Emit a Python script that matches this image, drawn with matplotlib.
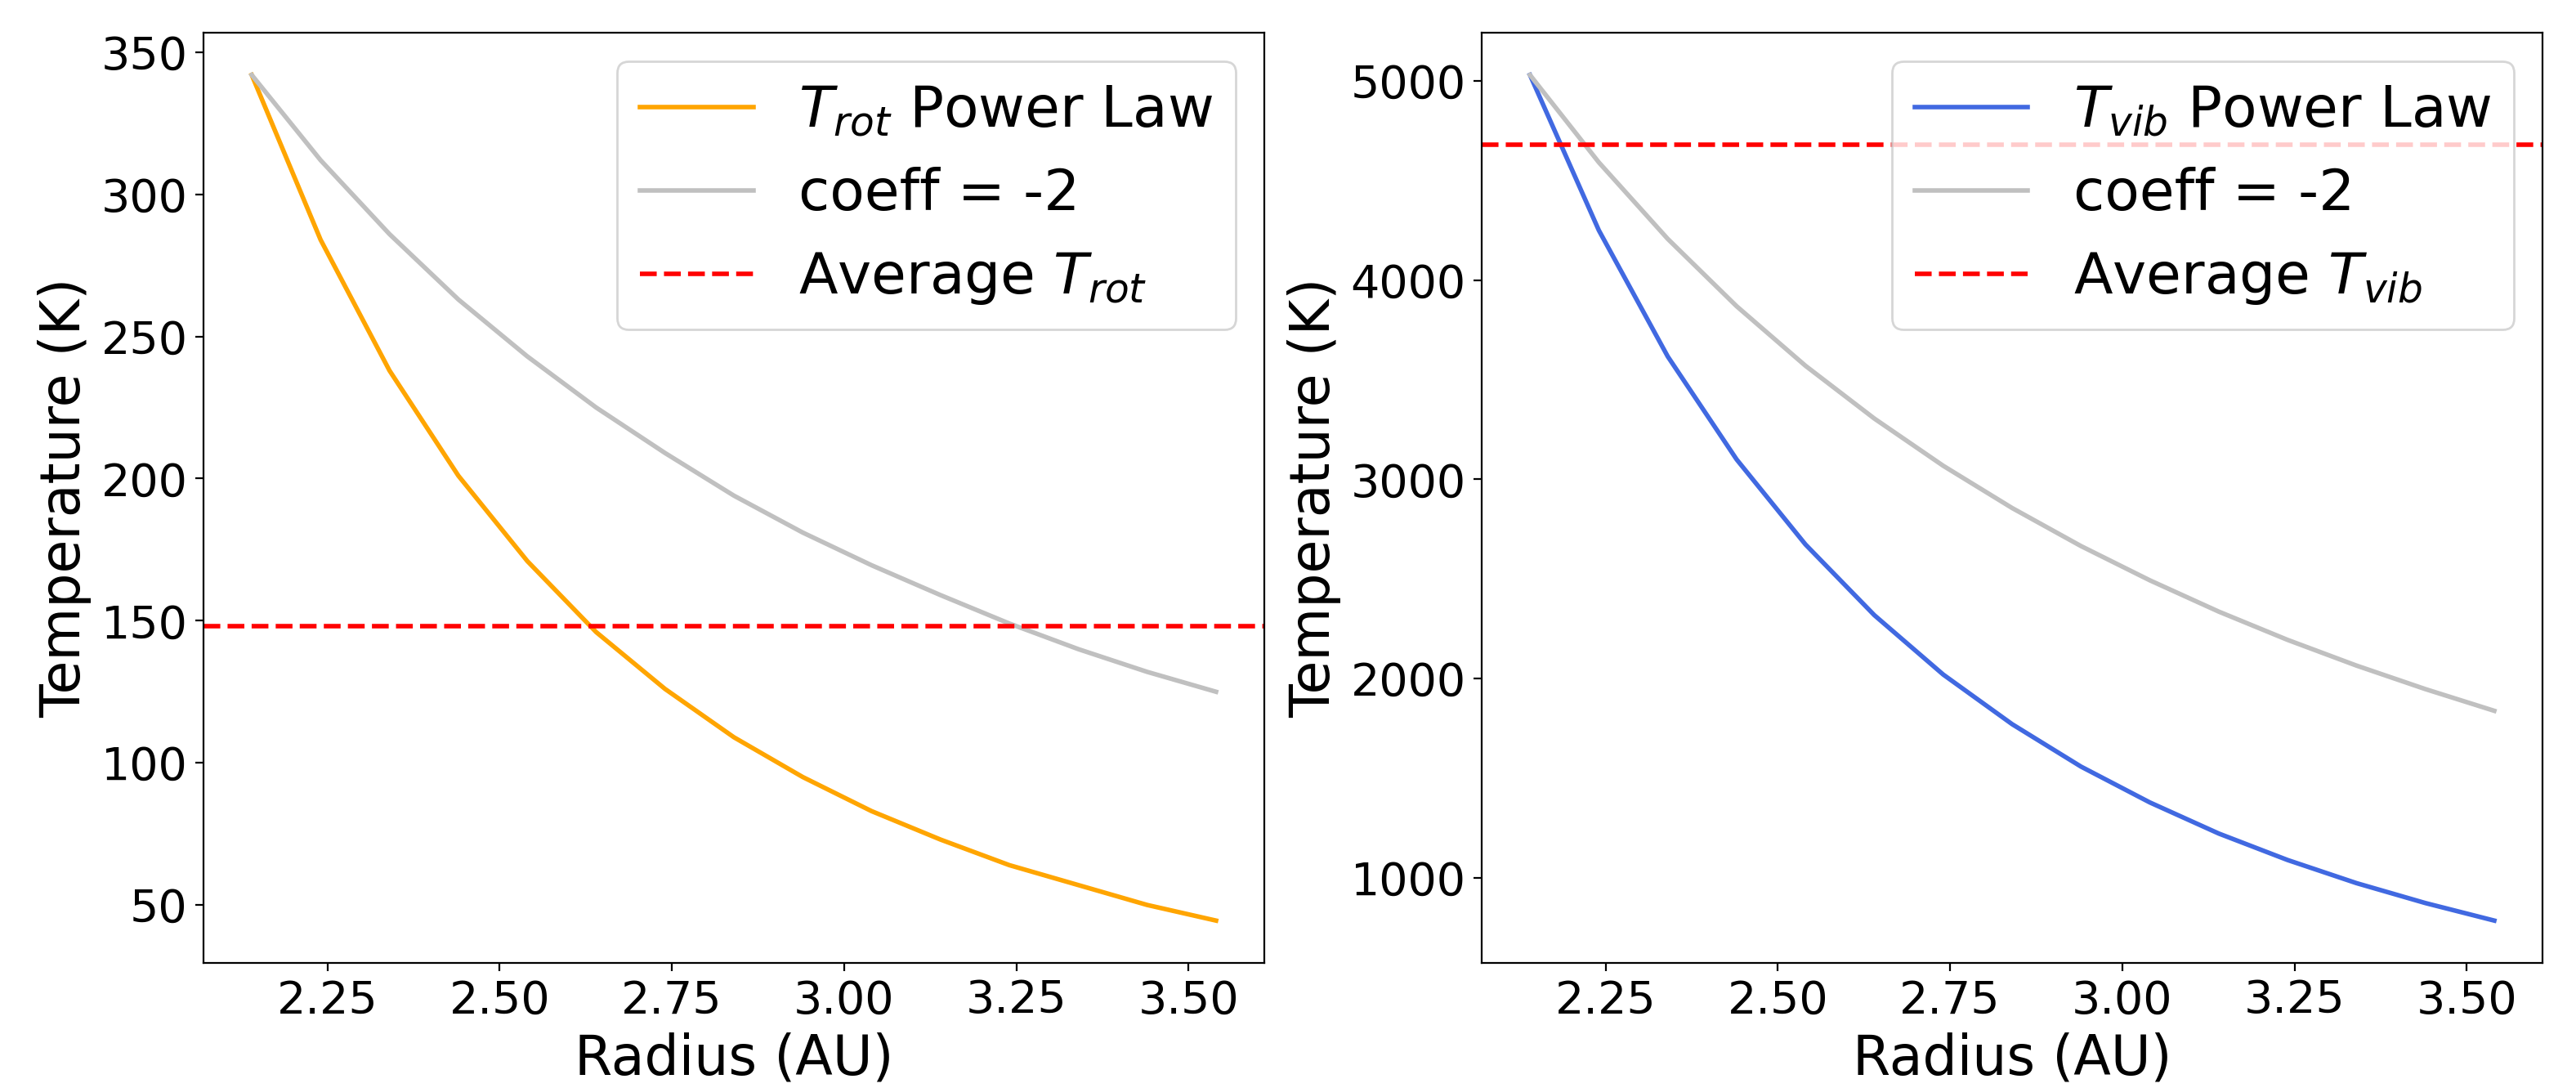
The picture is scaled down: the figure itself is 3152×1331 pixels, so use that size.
import matplotlib
matplotlib.use("Agg")
import matplotlib.pyplot as plt
from matplotlib.ticker import MultipleLocator

# ── Data ─────────────────────────────────────────────────────────────────────
radius = [2.14, 2.24, 2.34, 2.44, 2.54, 2.64, 2.74, 2.84,
          2.94, 3.04, 3.14, 3.24, 3.34, 3.44, 3.54]

t_rot = [342, 284, 238, 201, 171, 146, 126, 109,
         95, 83, 73, 64, 57, 50, 44.5]
t_rot_coeff2 = [342, 312, 286, 263, 243, 225, 209, 194,
                181, 169.5, 159, 149, 140, 132, 125]
t_rot_avg = 148

t_vib = [5030, 4250, 3617, 3100, 2673, 2318, 2020, 1771,
         1558, 1378, 1222, 1089, 973, 873, 785]
t_vib_coeff2 = [5030, 4591, 4207, 3869, 3570, 3305, 3068, 2856,
                2665, 2493, 2336, 2194, 2065, 1947, 1838]
t_vib_avg = 4680

# ── Style ────────────────────────────────────────────────────────────────────
TICK_FS = 20
LABEL_FS = 24
LEGEND_FS = 25

fig, (ax1, ax2) = plt.subplots(1, 2, figsize=(15.76, 6.655), dpi=200)
fig.subplots_adjust(left=0.079, right=0.987, top=0.970, bottom=0.115, wspace=0.205)

panels = [
    (ax1, t_rot, t_rot_coeff2, t_rot_avg, "orange", "rot"),
    (ax2, t_vib, t_vib_coeff2, t_vib_avg, "royalblue", "vib"),
]

for ax, temp, temp_c2, temp_avg, color, sub in panels:
    ax.plot(radius, temp, color=color, lw=2, label=r"$T_{%s}$ Power Law" % sub)
    ax.plot(radius, temp_c2, color="silver", lw=2, label="coeff = -2")
    ax.axhline(temp_avg, color="red", ls="--", lw=2, label=r"Average $T_{%s}$" % sub)
    ax.set_xlabel("Radius (AU)", fontsize=LABEL_FS)
    ax.set_ylabel("Temperature (K)", fontsize=LABEL_FS)
    ax.xaxis.set_major_locator(MultipleLocator(0.25))
    ax.tick_params(labelsize=TICK_FS)
    ax.legend(loc="upper right", fontsize=LEGEND_FS)

plt.savefig("out.png", dpi=200)
plt.close()
